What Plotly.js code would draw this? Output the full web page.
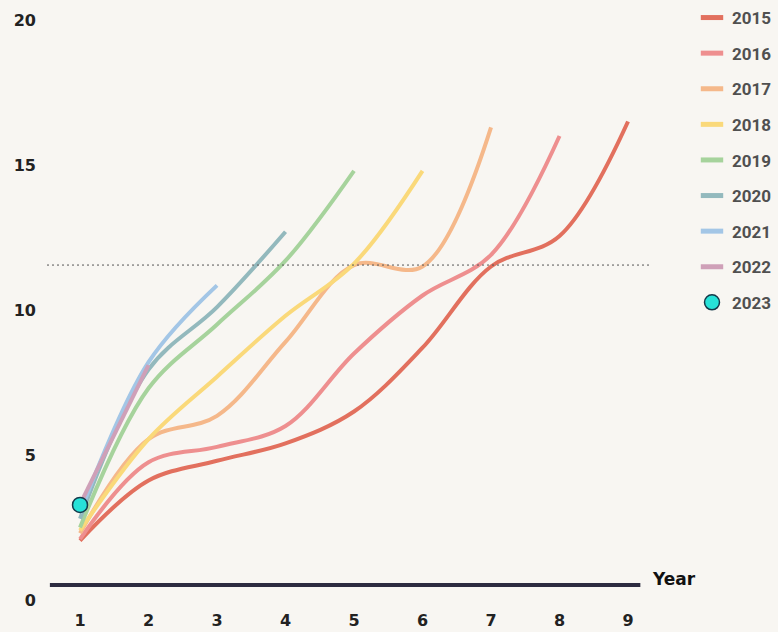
<!DOCTYPE html>
<html>
<head>
<meta charset="utf-8">
<script src="https://cdn.plot.ly/plotly-3.0.1.min.js"></script>
<style>
  html, body { margin: 0; padding: 0; background: #f8f6f2; }
  #chart { width: 778px; height: 632px; }
</style>
</head>
<body>
<div id="chart"></div>
<script>
// Cumulative value by year of life, one series per starting year
const years = [1, 2, 3, 4, 5, 6, 7, 8, 9];
const seriesNames = ['2015', '2016', '2017', '2018', '2019', '2020', '2021', '2022'];
const v2015 = [2.05, 4.12, 4.8, 5.4, 6.5, 8.7, 11.5, 12.55, 16.5];
const v2016 = [2.1, 4.75, 5.28, 6.0, 8.5, 10.5, 11.9, 16.0];
const v2017 = [2.3, 5.55, 6.35, 8.9, 11.55, 11.5, 16.3];
const v2018 = [2.4, 5.55, 7.7, 9.8, 11.6, 14.8];
const v2019 = [2.5, 7.3, 9.5, 11.7, 14.8];
const v2020 = [2.8, 7.95, 10.1, 12.7];
const v2021 = [3.0, 8.2, 10.85];
const v2022 = [3.3, 8.1];
const v2023 = [3.28];
const referenceLevel = 11.55;
const yTicks = [0, 5, 10, 15, 20];

const seriesValues = [v2015, v2016, v2017, v2018, v2019, v2020, v2021, v2022];
const lineColors = ['#e2705e', '#ee8f8f', '#f5b88a', '#fad97a', '#a6d39c', '#93b9bd', '#a3c6e6', '#cfa0b8'];
const dotColor = '#27e2d8';
const dotEdge = '#15394a';

const traces = [];
seriesValues.forEach((vals, i) => {
  traces.push({
    x: years.slice(0, vals.length),
    y: vals,
    type: 'scatter',
    mode: 'lines',
    line: { color: lineColors[i], width: 4, shape: 'spline', smoothing: 1 },
    showlegend: false,
    legendgroup: seriesNames[i],
    name: seriesNames[i]
  });
});
// legend keys drawn as short bars
seriesValues.forEach((vals, i) => {
  traces.push({
    x: [null], y: [null],
    type: 'scatter',
    mode: 'markers',
    marker: { symbol: 'line-ew', size: 16, line: { color: lineColors[i], width: 5 } },
    name: seriesNames[i],
    legendgroup: seriesNames[i],
    showlegend: true
  });
});
traces.push({
  x: years.slice(0, v2023.length),
  y: v2023,
  type: 'scatter',
  mode: 'markers',
  marker: { color: dotColor, size: 15, line: { color: dotEdge, width: 1.5 } },
  name: '2023',
  legendgroup: '2023',
  showlegend: true
});

const layout = {
  width: 778,
  height: 632,
  paper_bgcolor: '#f8f6f2',
  plot_bgcolor: '#f8f6f2',
  margin: { l: 47, r: 126, t: 20, b: 32 },
  font: { family: 'DejaVu Sans', color: '#222' },
  xaxis: {
    range: [0.518, 9.35],
    tickvals: years,
    ticktext: years.map(String),
    showgrid: false,
    zeroline: false,
    showline: false,
    ticks: '',
    ticklabelstandoff: 9,
    tickfont: { family: 'DejaVu Sans', size: 16, weight: 'bold', color: '#222' }
  },
  yaxis: {
    range: [0, 20],
    tickvals: yTicks,
    ticktext: yTicks.map(String),
    showgrid: false,
    zeroline: false,
    showline: false,
    ticks: '',
    ticklabelstandoff: 10,
    tickfont: { family: 'DejaVu Sans', size: 16, weight: 'bold', color: '#222' }
  },
  legend: {
    xref: 'container', yref: 'container',
    x: 692 / 778, y: 1,
    xanchor: 'left', yanchor: 'top',
    bgcolor: 'rgba(0,0,0,0)',
    borderwidth: 0,
    traceorder: 'grouped',
    tracegroupgap: 10.5,
    font: { family: 'Roboto', size: 17, weight: 'bold', color: '#505050' }
  },
  shapes: [
    {
      type: 'line', xref: 'paper', yref: 'y',
      x0: 0, x1: 1, y0: referenceLevel, y1: referenceLevel,
      line: { color: '#555', width: 1, dash: '2px,3px' }
    },
    {
      type: 'line', xref: 'x', yref: 'y',
      x0: 0.56, x1: 9.18, y0: 0.52, y1: 0.52,
      line: { color: '#2d2b40', width: 4 }
    }
  ],
  annotations: [
    {
      text: 'Year', xref: 'x', yref: 'y', x: 9.32, y: 0.72,
      xanchor: 'left', yanchor: 'middle', showarrow: false,
      font: { family: 'DejaVu Sans', size: 17, weight: 'bold', color: '#111' }
    }
  ]
};

Plotly.newPlot('chart', traces, layout, { displayModeBar: false, staticPlot: true });
</script>
</body>
</html>
